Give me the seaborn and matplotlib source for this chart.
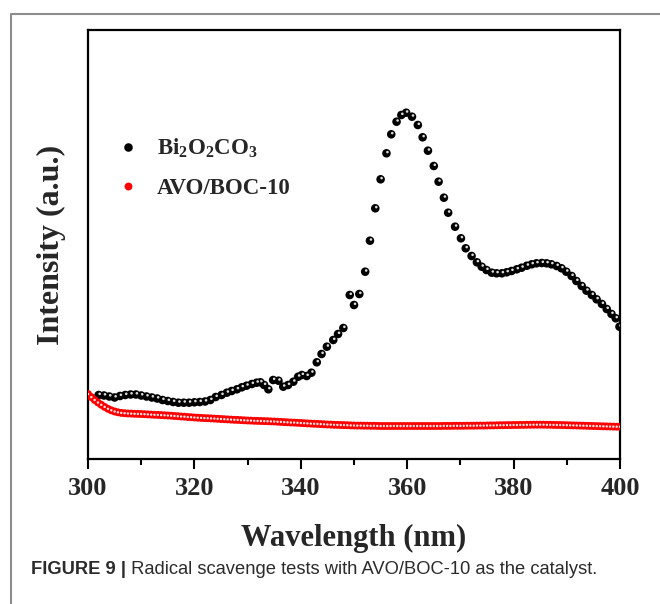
import numpy as np
import pandas as pd
import matplotlib
matplotlib.use("Agg")
import matplotlib.pyplot as plt
import matplotlib.transforms as mtransforms
from matplotlib.lines import Line2D
import seaborn as sns

# ---------------- data ----------------
series_names = ["Bi$_\\mathbf{2}$O$_\\mathbf{2}$CO$_\\mathbf{3}$", "AVO/BOC-10"]
series_colors = ["#000000", "#ff0000"]

bi_wavelength = [
    302, 303, 304, 305, 306, 307, 308, 309, 310, 311, 312, 313, 314, 315, 316,
    317, 318, 319, 320, 321, 322, 323, 324, 325.1, 326.1, 327, 328, 328.9, 329.8,
    330.8, 331.7, 332.4, 333.1, 333.9, 334.8, 335.8, 336.7, 337.6, 338.6, 339.5,
    340.2, 341.1, 342.0, 343.0, 343.9, 344.9, 346.1, 347.0, 348.0, 349.2, 350.0,
    351.0, 352.1, 353.0, 354.0, 355.0, 356.1, 357.0, 358.0, 358.9, 359.8, 360.9,
    362.0, 362.9, 363.9, 365.0, 365.9, 366.9, 367.7, 369.0, 370.1, 371.0, 372.1,
    373.1, 374.0, 374.9, 375.9, 376.8, 377.8, 378.7, 379.6, 380.6, 381.5, 382.5,
    383.4, 384.3, 385.3, 386.2, 387.1, 388.1, 389.0, 389.9, 390.9, 391.8, 392.8,
    393.7, 394.7, 395.6, 396.6, 397.5, 398.4, 399.2, 399.9]
bi_intensity = [
    64, 63.5, 62.5, 61.5, 63, 64, 64.5, 64.5, 63.5, 62.5, 61.5, 60.5, 59, 58, 57,
    56.3, 56.3, 56.3, 56.7, 57, 57.5, 59, 62, 64, 66.3, 68, 69.7, 71.7, 73.3,
    75, 76.3, 76.7, 74, 69.7, 79, 78.3, 72.3, 74, 77.3, 82.3,
    84, 83, 86.3, 96.7, 105, 112.3, 119, 125, 131, 164, 154,
    165, 187.3, 218.3, 250.7, 279.7, 305.7, 324.7, 337.3, 344, 346.3, 342.3,
    334, 321.7, 308.3, 293, 277.3, 261.3, 246.3, 232.3, 220.7, 210.7, 203,
    196.7, 192.3, 189, 186.3, 185.7, 185.7, 186.7, 188, 189.7, 191.3, 193.3,
    194.7, 195.7, 196, 195.7, 194.7, 193, 190.7, 187.3, 183, 178, 173,
    168.3, 164, 159.7, 155, 150, 145, 140.7, 132.3]

avo_wavelength = list(np.linspace(300, 400, 161))
avo_intensity = [
    65.0, 61.9, 59.0, 56.5, 54.2, 52.1, 50.2, 48.7, 47.5, 46.7,
    46.1, 45.8, 45.5, 45.4, 45.2, 45.1, 45.0, 44.8, 44.6, 44.4,
    44.2, 44.1, 43.9, 43.7, 43.5, 43.3, 43.0, 42.8, 42.5, 42.3,
    42.0, 41.8, 41.5, 41.3, 41.1, 40.9, 40.8, 40.6, 40.4, 40.2,
    40.0, 39.8, 39.6, 39.4, 39.2, 39.1, 38.9, 38.7, 38.5, 38.4,
    38.2, 38.1, 38.0, 37.9, 37.8, 37.6, 37.5, 37.3, 37.1, 36.9,
    36.7, 36.5, 36.4, 36.2, 36.0, 35.8, 35.6, 35.4, 35.2, 35.1,
    34.9, 34.7, 34.5, 34.4, 34.2, 34.1, 34.0, 33.9, 33.8, 33.6,
    33.5, 33.4, 33.4, 33.3, 33.3, 33.2, 33.2, 33.1, 33.0, 33.0,
    33.0, 33.0, 33.0, 33.0, 33.0, 33.0, 33.0, 33.0, 33.0, 33.0,
    33.0, 33.0, 33.0, 33.0, 33.0, 33.0, 33.0, 33.1, 33.1, 33.1,
    33.2, 33.2, 33.2, 33.2, 33.3, 33.3, 33.3, 33.4, 33.4, 33.4,
    33.5, 33.6, 33.6, 33.7, 33.8, 33.8, 33.9, 33.9, 34.0, 34.0,
    34.1, 34.1, 34.2, 34.2, 34.3, 34.3, 34.3, 34.3, 34.2, 34.2,
    34.1, 34.0, 34.0, 33.9, 33.8, 33.7, 33.6, 33.5, 33.4, 33.3,
    33.2, 33.1, 33.0, 32.9, 32.8, 32.7, 32.6, 32.5, 32.4, 32.3,
    32.2]

x_ticks = [300, 320, 340, 360, 380, 400]
x_label = "Wavelength (nm)"
y_label = "Intensity (a.u.)"
caption_bold = "FIGURE 9 |"
caption_rest = " Radical scavenge tests with AVO/BOC-10 as the catalyst."

# ---------------- build table ----------------
df = pd.concat([
    pd.DataFrame({"Wavelength": bi_wavelength, "Intensity": bi_intensity,
                  "Sample": series_names[0]}),
    pd.DataFrame({"Wavelength": avo_wavelength, "Intensity": avo_intensity,
                  "Sample": series_names[1]}),
], ignore_index=True)

# ---------------- style ----------------
sns.set_theme(style="white")
plt.rcParams["font.family"] = ["Liberation Serif", "DejaVu Serif"]
plt.rcParams["mathtext.fontset"] = "custom"
plt.rcParams["mathtext.rm"] = "Liberation Serif:bold"
plt.rcParams["mathtext.bf"] = "Liberation Serif:bold"
plt.rcParams["mathtext.it"] = "Liberation Serif:bold"

W, H = 660, 604
fig = plt.figure(figsize=(W / 100, H / 100), dpi=100)
ax = fig.add_axes([88 / W, 1 - 459 / H, (620 - 88) / W, (459 - 30) / H])

palette = dict(zip(series_names, series_colors))
sizes = {series_names[0]: 38, series_names[1]: 32}
sns.scatterplot(data=df, x="Wavelength", y="Intensity", hue="Sample",
                size="Sample", sizes=sizes,
                palette=palette, edgecolor="none", linewidth=0,
                ax=ax, legend=True, zorder=3)

# glossy highlights on the spheres
hl = mtransforms.offset_copy(ax.transData, fig=fig, x=1.0, y=1.2, units="dots")
ax.scatter(bi_wavelength, bi_intensity, s=3.5, color="#dcdcdc", edgecolor="none",
           transform=hl, zorder=4)
ax.scatter(avo_wavelength, avo_intensity, s=3, color="#ffe4e4", edgecolor="none",
           transform=ax.transData, zorder=4)

ax.set_xlim(300, 400)
ax.set_ylim(0, 429)
ax.set_xticks(x_ticks)
ax.set_xticks(np.arange(310, 400, 20), minor=True)
ax.set_yticks([])
ax.tick_params(axis="x", which="major", direction="out", length=7, width=1.5,
               color="black", bottom=True, pad=6, labelsize=19)
ax.tick_params(axis="x", which="minor", direction="out", length=4, width=1.5,
               color="black", bottom=True)
for lab in ax.get_xticklabels():
    lab.set_fontweight("bold")
for sp in ax.spines.values():
    sp.set_color("black")
    sp.set_linewidth(1.6)
    sp.set_visible(True)

ax.set_xlabel(x_label, fontsize=22, fontweight="bold", labelpad=17)
ax.set_ylabel(y_label, fontsize=23, fontweight="bold", labelpad=16)

leg = ax.legend(loc="upper left", bbox_to_anchor=(0.036, 0.772), frameon=False,
                fontsize=16.5, handlelength=1.0, handletextpad=0.76,
                labelspacing=0.78, borderaxespad=0.0, markerscale=1.0)
for t in leg.get_texts():
    t.set_fontweight("bold")

# outer frame (top and left edges only visible)
fx = 11 / W
fy = 1 - 14 / H
fig.add_artist(Line2D([fx, fx, 1.0], [0.0, fy, fy], transform=fig.transFigure,
                      color="#8c8c8c", linewidth=1.5))

# caption
cap_y = 1 - 569 / H
t1 = fig.text(31 / W, cap_y, caption_bold, fontsize=13.2, fontweight="bold",
              family="Liberation Sans", color="#2b2b2b", va="center")
fig.canvas.draw()
bb = t1.get_window_extent()
fig.text(bb.x1 / (W), cap_y, caption_rest, fontsize=13.2,
         family="Liberation Sans", color="#2b2b2b", va="center")

fig.savefig("out.png", dpi=100)
